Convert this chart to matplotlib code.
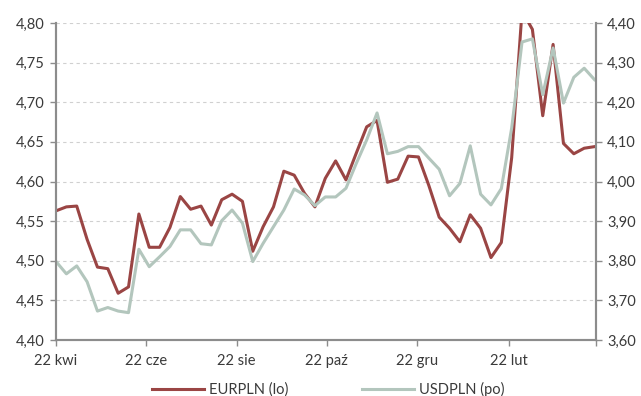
import matplotlib
matplotlib.use("Agg")
import matplotlib.pyplot as plt
import matplotlib.dates as mdates
import numpy as np
import pandas as pd

plt.rcParams['font.family'] = ['Lato', 'DejaVu Sans']

dates = pd.date_range("2022-04-22", periods=53, freq="7D")

eurpln = [4.563, 4.568, 4.569, 4.527, 4.492, 4.490, 4.459, 4.467, 4.559, 4.517,
          4.517, 4.542, 4.581, 4.565, 4.569, 4.545, 4.577, 4.584, 4.575, 4.512,
          4.543, 4.568, 4.613, 4.608, 4.585, 4.568, 4.604, 4.626, 4.602, 4.636,
          4.669, 4.677, 4.599, 4.603, 4.632, 4.631, 4.595, 4.555, 4.541, 4.524,
          4.558, 4.541, 4.504, 4.523, 4.630, 4.815, 4.792, 4.683, 4.773, 4.648,
          4.635, 4.642, 4.644]

usdpln = [3.798, 3.767, 3.787, 3.747, 3.673, 3.682, 3.673, 3.669, 3.829, 3.785,
          3.810, 3.836, 3.878, 3.878, 3.843, 3.840, 3.901, 3.928, 3.895, 3.798,
          3.844, 3.886, 3.928, 3.981, 3.966, 3.939, 3.961, 3.961, 3.983, 4.046,
          4.105, 4.173, 4.070, 4.076, 4.088, 4.088, 4.059, 4.031, 3.964, 3.995,
          4.090, 3.968, 3.941, 3.982, 4.135, 4.352, 4.360, 4.219, 4.337, 4.198,
          4.263, 4.286, 4.257]

x_ticks = ["2022-04-22", "2022-06-22", "2022-08-22", "2022-10-22",
           "2022-12-22", "2023-02-22", "2023-04-22"]
x_tick_labels = ["22 kwi", "22 cze", "22 sie", "22 paź", "22 gru", "22 lut", ""]

left_ticks = [4.40, 4.45, 4.50, 4.55, 4.60, 4.65, 4.70, 4.75, 4.80]
right_ticks = [3.60, 3.70, 3.80, 3.90, 4.00, 4.10, 4.20, 4.30, 4.40]

series_labels = ["EURPLN (lo)", "USDPLN (po)"]

eur_color = "#9a4544"
usd_color = "#b3c6bd"
spine_color = "#8c8c8c"
text_color = "#3a3a3a"

fig = plt.figure(figsize=(6.41, 3.96), dpi=100)
ax = fig.add_axes([0.0874, 0.1414, 0.8424, 0.8005])
ax2 = ax.twinx()

l1, = ax.plot(dates, eurpln, color=eur_color, lw=2.2, label=series_labels[0])
l2, = ax2.plot(dates, usdpln, color=usd_color, lw=2.2, label=series_labels[1])

ax.set_xlim(pd.Timestamp("2022-04-22"), pd.Timestamp("2023-04-22"))
ax.set_ylim(4.40, 4.80)
ax2.set_ylim(3.60, 4.40)

ax.set_yticks(left_ticks)
ax.set_yticklabels([f"{v:.2f}".replace(".", ",") for v in left_ticks])
ax2.set_yticks(right_ticks)
ax2.set_yticklabels([f"{v:.2f}".replace(".", ",") for v in right_ticks])
ax.set_xticks([pd.Timestamp(d) for d in x_ticks])
ax.set_xticklabels(x_tick_labels)

for a in (ax, ax2):
    a.spines['top'].set_visible(False)
    for s in ('left', 'right', 'bottom'):
        a.spines[s].set_color(spine_color)
        a.spines[s].set_linewidth(1.5)
    a.tick_params(colors=spine_color, labelcolor=text_color, labelsize=10.5,
                  length=4, width=1)
ax.tick_params(axis='x', pad=6)
ax.tick_params(axis='y', pad=4)
ax2.tick_params(axis='y', pad=4)

ax.yaxis.grid(True, color="#d0d0d0", linestyle=(0, (3, 3)), linewidth=0.8)
ax.set_axisbelow(True)

fig.legend(handles=[l1, l2], labels=series_labels, loc="lower center",
           bbox_to_anchor=(0.512, -0.035), ncol=2, frameon=False, fontsize=10.5,
           handlelength=3.6, handletextpad=0.35, columnspacing=5.0,
           labelcolor=text_color)

fig.savefig("out.png", dpi=100)
